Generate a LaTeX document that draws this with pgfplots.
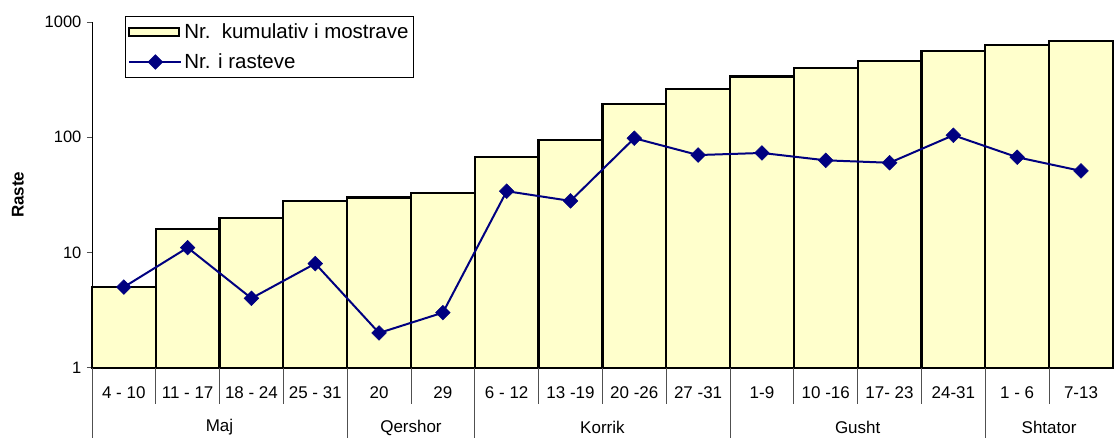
\documentclass[border=0pt]{standalone}
\usepackage{pgfplots}
\pgfplotsset{compat=1.18}
\usepackage{fontspec}
\setmainfont{Liberation Sans}
\definecolor{barfill}{RGB}{255,255,204}
\definecolor{navyline}{RGB}{0,0,128}
\definecolor{sepgray}{RGB}{80,80,80}
\tikzset{
  catfont/.style={font=\fontsize{17}{20}\selectfont},
}
\pgfplotsset{
  barlegend/.style={legend image code/.code={\draw[fill=barfill,draw=black,line width=2.2pt] (0pt,-4pt) rectangle (50pt,4pt);}},
  linelegend/.style={legend image code/.code={\draw[##1,mark repeat=2,mark phase=2] plot coordinates {(0pt,0pt) (26pt,0pt) (52pt,0pt)};}},
}
\begin{document}
\begin{tikzpicture}
\begin{axis}[
  at={(0,0)}, anchor=south west,
  scale only axis, width=1022pt, height=346pt,
  xmin=-0.5, xmax=15.5,
  ymode=log, ymin=1, ymax=1000,
  axis x line=none,
  axis y line*=left,
  y axis line style={-, black, line width=0.8pt},
  ytick={1,10,100,1000}, yticklabels={1,10,100,1000},
  yminorticks=false,
  ytick style={sepgray, line width=0.8pt},
  tick align=outside, major tick length=5pt,
  yticklabel style={font=\fontsize{16.5}{19}\selectfont, xshift=-2pt},
  clip=false,
  legend style={at={(rel axis cs:0.0323,1.017)}, anchor=north west,
    draw=black, line width=0.8pt, font=\fontsize{20.5}{24}\selectfont,
    inner xsep=3pt, inner ysep=5pt, row sep=10pt, cells={anchor=west}},
]
\addplot[ybar, bar width=1, bar shift=0, fill=barfill, draw=black, line width=2.2pt, barlegend]
  coordinates {(0,5) (1,16) (2,20) (3,28) (4,30) (5,33) (6,67) (7,95) (8,193) (9,263) (10,336) (11,399) (12,459) (13,563) (14,630) (15,681)};
\addlegendentry{Nr.\ \ kumulativ i mostrave}
\addplot[navyline, line width=2pt, mark=square*, mark size=5.2pt, mark options={rotate=45, fill=navyline, line width=0.5pt}, linelegend]
  coordinates {(0,5) (1,11) (2,4) (3,8) (4,2) (5,3) (6,34) (7,28) (8,98) (9,70) (10,73) (11,63) (12,60) (13,104) (14,67) (15,51)};
\addlegendentry{Nr. i rasteve}
% week labels
\node[catfont] at ([yshift=-25pt]axis cs:0,1) {4 - 10};
\node[catfont] at ([yshift=-25pt]axis cs:1,1) {11 - 17};
\node[catfont] at ([yshift=-25pt]axis cs:2,1) {18 - 24};
\node[catfont] at ([yshift=-25pt]axis cs:3,1) {25 - 31};
\node[catfont] at ([yshift=-25pt]axis cs:4,1) {20};
\node[catfont] at ([yshift=-25pt]axis cs:5,1) {29};
\node[catfont] at ([yshift=-25pt]axis cs:6,1) {6 - 12};
\node[catfont] at ([yshift=-25pt]axis cs:7,1) {13 -19};
\node[catfont] at ([yshift=-25pt]axis cs:8,1) {20 -26};
\node[catfont] at ([yshift=-25pt]axis cs:9,1) {27 -31};
\node[catfont] at ([yshift=-25pt]axis cs:10,1) {1-9};
\node[catfont] at ([yshift=-25pt]axis cs:11,1) {10 -16};
\node[catfont] at ([yshift=-25pt]axis cs:12,1) {17- 23};
\node[catfont] at ([yshift=-25pt]axis cs:13,1) {24-31};
\node[catfont] at ([yshift=-25pt]axis cs:14,1) {1 - 6};
\node[catfont] at ([yshift=-25pt]axis cs:15,1) {7-13};
% week separators
\foreach \x in {0.5,1.5,2.5,4.5,6.5,7.5,8.5,10.5,11.5,12.5,14.5}{
  \edef\tmp{\noexpand\draw[sepgray, line width=0.8pt] (axis cs:\x,1) -- ([yshift=-36pt]axis cs:\x,1);}\tmp
}
% month separators
\foreach \x in {-0.5,3.5,5.5,9.5,13.5}{
  \edef\tmp{\noexpand\draw[sepgray, line width=0.8pt] (axis cs:\x,1) -- ([yshift=-70pt]axis cs:\x,1);}\tmp
}
% month labels
\node[catfont] at ([yshift=-60pt]axis cs:1.5,1) {Maj};
\node[catfont] at ([yshift=-60pt]axis cs:4.5,1) {Qershor};
\node[catfont] at ([yshift=-60pt]axis cs:7.5,1) {Korrik};
\node[catfont] at ([yshift=-60pt]axis cs:11.5,1) {Gusht};
\node[catfont] at ([yshift=-60pt]axis cs:14.5,1) {Shtator};
\node[rotate=90, font=\fontsize{17}{20}\selectfont\bfseries] at ([xshift=-74pt]axis cs:-0.5,31.6228) {Raste};
\end{axis}
\useasboundingbox (-92pt,-70pt) rectangle (1022pt,368pt);
\end{tikzpicture}
\end{document}
